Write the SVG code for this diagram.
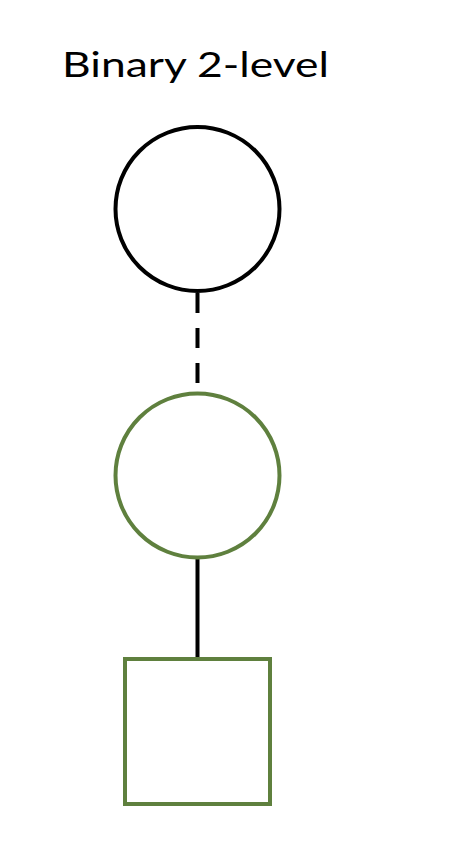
<svg xmlns="http://www.w3.org/2000/svg" width="466" height="842" viewBox="0 0 466 842">
<style>
.t{font-family:"Lato","Open Sans","Liberation Sans",sans-serif;font-size:35px;fill:#000}
.n{fill:none;stroke-width:4}
.blk{stroke:#000}
.grn{stroke:#5f803e}
.e{stroke:#000;stroke-width:4;fill:none}
</style>
<rect width="466" height="842" fill="#fff"/>
<text class="t" x="62" y="77" textLength="267" lengthAdjust="spacingAndGlyphs">Binary 2-level</text>
<g id="connectors">
<line class="e" x1="197.5" y1="293" x2="197.5" y2="386" stroke-dasharray="20 15"/>
<line class="e" x1="197.5" y1="559" x2="197.5" y2="660"/>
</g>
<g id="node-top"><circle class="n blk" cx="197.5" cy="209" r="82"/></g>
<g id="node-mid"><circle class="n grn" cx="197.5" cy="475.5" r="82"/></g>
<g id="node-leaf"><rect class="n grn" x="125" y="659" width="145" height="145"/></g>
</svg>
